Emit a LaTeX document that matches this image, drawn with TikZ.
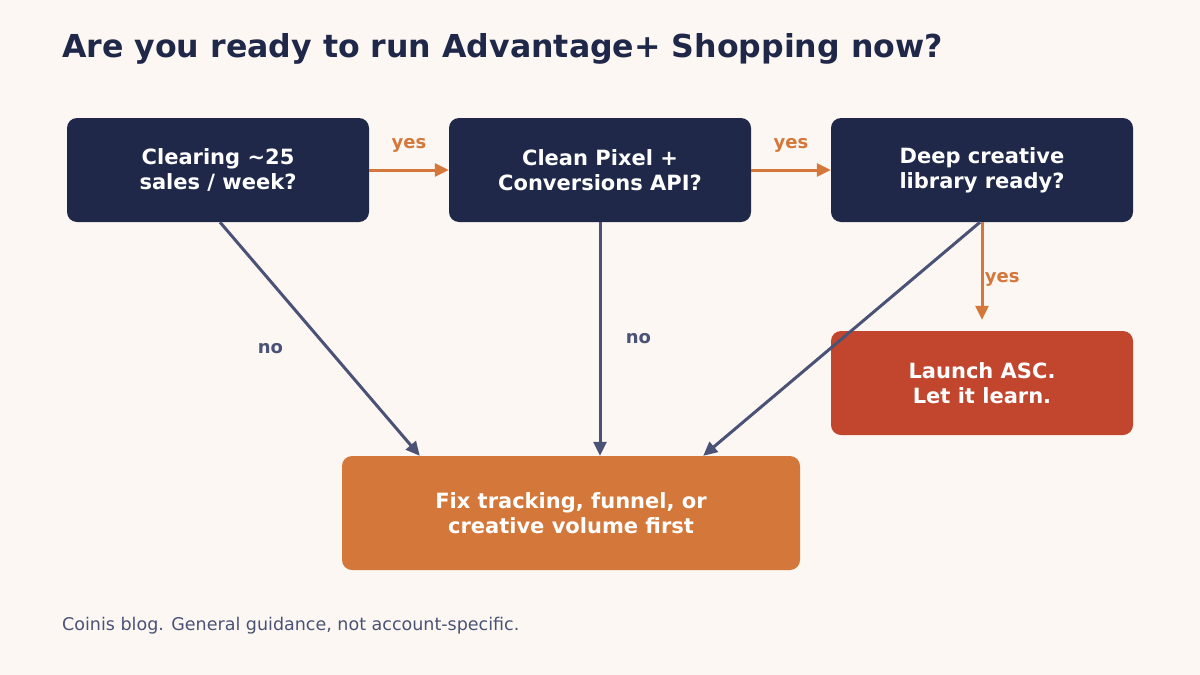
\documentclass[tikz,border=0pt]{standalone}
\usepackage{fontspec}
\setmainfont{DejaVu Sans}
\usetikzlibrary{arrows.meta}
\usetikzlibrary{calc}
\definecolor{bgcol}{HTML}{FCF7F2}
\definecolor{navy}{HTML}{1F2849}
\definecolor{rust}{HTML}{D4773A}
\definecolor{brick}{HTML}{C2452D}
\definecolor{slate}{HTML}{4A5275}
\tikzset{>={Triangle[length=14pt,width=13pt]}}
\tikzstyle{step box} = [%
					rectangle, rounded corners = 10pt,
					minimum width = 302pt, minimum height = 104pt,
					align = center, text = white, inner sep = 0pt,
					font = \fontsize{21}{25}\selectfont\bfseries]
\tikzstyle{go} = [line width = 3pt, color = rust, ->]
\tikzstyle{stop} = [line width = 3pt, color = slate, ->]
\tikzstyle{tag} = [font = \fontsize{18}{21}\selectfont\bfseries]

\begin{document}
\begin{tikzpicture}[x=1pt,y=-1pt]

	% Background
	\fill[bgcol] (0,0) rectangle (1200,675);
	\useasboundingbox (0,0) rectangle (1200,675);

	% Title and footer
	\node (title) [anchor=base west, text=navy, inner sep=0pt, font=\fontsize{31.6}{36}\selectfont\bfseries] at (62,57) {Are you ready to run Advantage+ Shopping now?};
	\node (foot) [anchor=base west, text=slate, inner sep=0pt, font=\fontsize{17.5}{20}\selectfont] at (62,630) {Coinis blog. General guidance, not account-specific.};

	% Nodes
	\node (sales)  [step box, fill=navy] at (218,170) {Clearing \textasciitilde25\\sales / week?};
	\node (pixel)  [step box, fill=navy] at (600,170) {Clean Pixel +\\Conversions API?};
	\node (lib)    [step box, fill=navy] at (982,170) {Deep creative\\library ready?};
	\node (launch) [step box, fill=brick] at (982,383) {Launch ASC.\\Let it learn.};
	\node (fix)    [step box, fill=rust, minimum width=458pt, minimum height=114pt] at (571,513) {Fix tracking, funnel, or\\creative volume first};

	% Coordinates
	\coordinate (fixL) at ($(fix.north west)+(78,0)$);
	\coordinate (fixR) at ($(fix.north east)+(-97,0)$);

	% Yes path
	\draw[go] (sales.east) -- (pixel.west) node[midway, above=13pt, tag, text=rust] {yes};
	\draw[go] (pixel.east) -- (lib.west) node[midway, above=13pt, tag, text=rust] {yes};
	\draw[go, shorten >=11pt] (lib.south) -- (launch.north) node[pos=0.53, right=-2pt, tag, text=rust] {yes};

	% No path
	\draw[stop] ($(sales.south)+(2,0)$) -- (fixL) node[pos=0.54, left=40pt, tag, text=slate] {no};
	\draw[stop] (pixel.south) -- (fix.north -| pixel.south) node[pos=0.5, right=21pt, tag, text=slate] {no};
	\draw[stop] ($(lib.south)+(-2,0)$) -- (fixR);

\end{tikzpicture}
\end{document}
